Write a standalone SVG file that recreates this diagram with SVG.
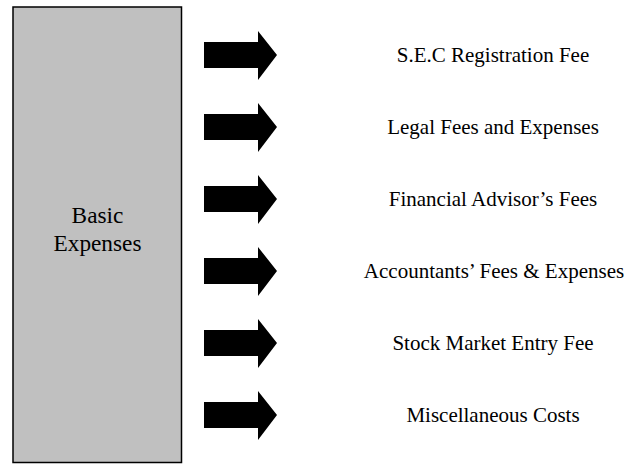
<svg xmlns="http://www.w3.org/2000/svg" width="629" height="464" viewBox="0 0 629 464">
  <style>
    .lbl { font-family: 'Liberation Serif', Tinos, 'DejaVu Serif', serif; font-size: 21px; fill: #000; text-anchor: middle; }
    .big { font-size: 23.3px; }
    .arrow { fill: #000; }
  </style>
  <defs>
    <!-- block arrow, centred vertically on y=0 -->
    <path id="blockArrow" d="M204,-13 H258 V-24 L277,0 L258,25 V13 H204 Z"/>
  </defs>
  <rect width="629" height="464" fill="#fff"/>

  <g id="basic-expenses">
    <rect x="13" y="7" width="168.5" height="455.5" fill="#c0c0c0" stroke="#000" stroke-width="1.5"/>
    <text class="lbl big" x="97.5" y="223.3">Basic</text>
    <text class="lbl big" x="97.5" y="251">Expenses</text>
  </g>

  <g id="connectors">
    <use href="#blockArrow" class="arrow" y="55"/>
    <use href="#blockArrow" class="arrow" y="127"/>
    <use href="#blockArrow" class="arrow" y="199"/>
    <use href="#blockArrow" class="arrow" y="271"/>
    <use href="#blockArrow" class="arrow" y="343"/>
    <use href="#blockArrow" class="arrow" y="415"/>
  </g>

  <g id="sec-registration-fee"><text class="lbl" x="493" y="61.7">S.E.C Registration Fee</text></g>
  <g id="legal-fees"><text class="lbl" x="493" y="133.7">Legal Fees and Expenses</text></g>
  <g id="financial-advisor-fees"><text class="lbl" x="493" y="205.7">Financial Advisor’s Fees</text></g>
  <g id="accountants-fees"><text class="lbl" x="494" y="277.7">Accountants’ Fees &amp; Expenses</text></g>
  <g id="stock-market-entry-fee"><text class="lbl" x="493" y="349.7">Stock Market Entry Fee</text></g>
  <g id="miscellaneous-costs"><text class="lbl" x="493" y="421.7">Miscellaneous Costs</text></g>
</svg>
